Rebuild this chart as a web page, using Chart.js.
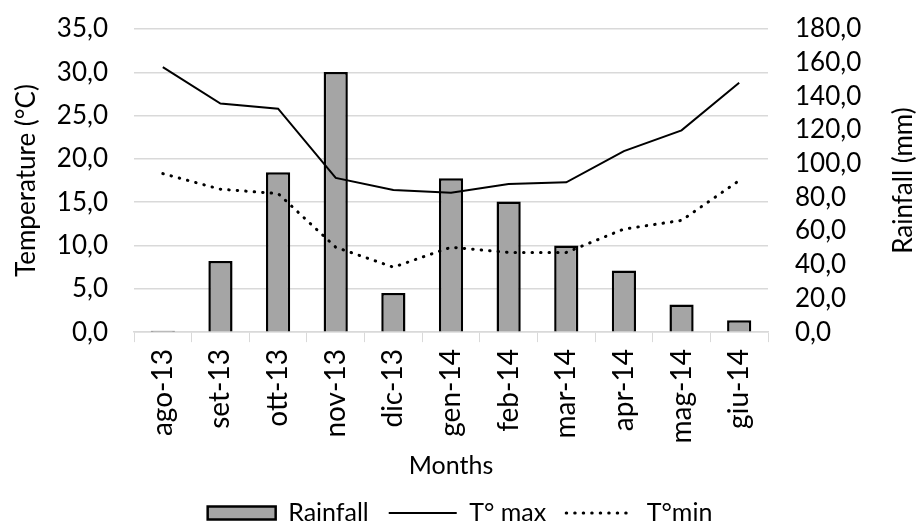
<!DOCTYPE html>
<html>
<head>
<meta charset="utf-8">
<script src="https://cdn.jsdelivr.net/npm/chart.js@4.4.1/dist/chart.umd.min.js"></script>
<style>
  html, body { margin: 0; padding: 0; background: #fff; }
  #wrap { width: 920px; height: 524px; }
</style>
</head>
<body>
<div id="wrap"><canvas id="chart"></canvas></div>
<script>
// Monthly data, ago-13 .. giu-14
const months = ['ago-13', 'set-13', 'ott-13', 'nov-13', 'dic-13', 'gen-14',
                'feb-14', 'mar-14', 'apr-14', 'mag-14', 'giu-14'];
const rainfall = [0.8, 42.3, 95.0, 154.5, 23.2, 91.3, 77.6, 51.4, 36.6, 16.4, 7.1];
const tMax = [30.6, 26.4, 25.8, 17.8, 16.4, 16.1, 17.1, 17.3, 20.9, 23.3, 28.8];
const tMin = [18.3, 16.5, 16.0, 9.8, 7.5, 9.8, 9.2, 9.2, 11.9, 12.9, 17.5];

const FONT = 'Lato, "Open Sans", sans-serif';
const AXIS_FONT = 26;   // y ticks and y titles
const fmt = v => v.toFixed(1).replace('.', ',');

Chart.defaults.font.family = FONT;
Chart.defaults.font.size = AXIS_FONT;
Chart.defaults.color = '#000';

// Right axis title reads bottom-to-top, so draw it ourselves
const rightTitle = {
    id: 'rightTitle',
    afterDraw(chart) {
        const c = chart.ctx;
        const area = chart.chartArea;
        c.save();
        c.translate(904, (area.top + area.bottom) / 2);
        c.rotate(-Math.PI / 2);
        c.font = AXIS_FONT + 'px ' + FONT;
        c.fillStyle = '#000';
        c.textAlign = 'center';
        c.textBaseline = 'middle';
        c.fillText('Rainfall (mm)', 0, 0);
        c.restore();
    }
};

const ctx = document.getElementById('chart').getContext('2d');
new Chart(ctx, {
    type: 'bar',
    data: {
        labels: months,
        datasets: [
            {
                label: 'Rainfall',
                data: rainfall,
                yAxisID: 'yRain',
                backgroundColor: '#a5a5a5',
                borderColor: '#000',
                borderWidth: 2.5,
                borderSkipped: 'bottom',
                categoryPercentage: 1,
                barPercentage: 0.42,
                order: 2
            },
            {
                type: 'line',
                label: 'T° max',
                data: tMax,
                yAxisID: 'yTemp',
                borderColor: '#000',
                borderWidth: 2,
                pointRadius: 0,
                tension: 0,
                order: 1
            },
            {
                type: 'line',
                label: 'T°min',
                data: tMin,
                yAxisID: 'yTemp',
                borderColor: '#000',
                borderWidth: 3,
                borderDash: [0.5, 8],
                borderCapStyle: 'round',
                pointRadius: 0,
                tension: 0,
                order: 1
            }
        ]
    },
    options: {
        responsive: true,
        maintainAspectRatio: false,
        animation: false,
        // negative bottom padding lets the legend sit close to the edge
        layout: { padding: { top: 29, bottom: -11.5, left: 0, right: 0 } },
        plugins: {
            tooltip: { enabled: false },
            legend: {
                position: 'bottom',
                labels: {
                    font: { size: 25 },
                    usePointStyle: true,
                    pointStyleWidth: 68,
                    boxHeight: 13,
                    boxWidth: 68,
                    padding: 20,
                    generateLabels(chart) {
                        return chart.data.datasets.map((ds, i) => ({
                            text: ds.label,
                            datasetIndex: i,
                            fillStyle: ds.type === 'line' ? 'transparent' : ds.backgroundColor,
                            strokeStyle: '#000',
                            lineWidth: ds.type === 'line' ? ds.borderWidth : 2.5,
                            lineDash: ds.borderDash || [],
                            lineCap: ds.borderCapStyle || 'butt',
                            pointStyle: ds.type === 'line' ? 'line' : 'rect',
                            fontColor: '#000'
                        }));
                    }
                }
            }
        },
        scales: {
            x: {
                offset: true,
                grid: {
                    offset: true,
                    drawOnChartArea: false,
                    drawTicks: true,
                    tickLength: 10,
                    color: '#d9d9d9'
                },
                border: { color: '#d9d9d9', width: 1.5 },
                ticks: { font: { size: 28 }, minRotation: 90, maxRotation: 90, padding: 7 },
                title: { display: true, text: 'Months', font: { size: 25 }, padding: { top: 0, bottom: 0 } }
            },
            yTemp: {
                position: 'left',
                min: 0,
                max: 35,
                // invisible tick marks push the labels away from the plot
                grid: { color: '#d9d9d9', lineWidth: 1.5, drawTicks: true, tickLength: 22, tickColor: 'transparent' },
                border: { display: false },
                ticks: { stepSize: 5, autoSkip: false, padding: 4, callback: v => fmt(v) },
                title: { display: true, text: 'Temperature (°C)', padding: { top: 11, bottom: 0 } },
                afterFit(scale) { scale.width = 134; }
            },
            yRain: {
                position: 'right',
                min: 0,
                max: 180,
                grid: { drawOnChartArea: false, drawTicks: true, tickLength: 23, tickColor: 'transparent' },
                border: { display: false },
                ticks: { stepSize: 20, autoSkip: false, padding: 4, callback: v => fmt(v) },
                afterFit(scale) { scale.width = 152; }
            }
        }
    },
    plugins: [rightTitle]
});
</script>
</body>
</html>
